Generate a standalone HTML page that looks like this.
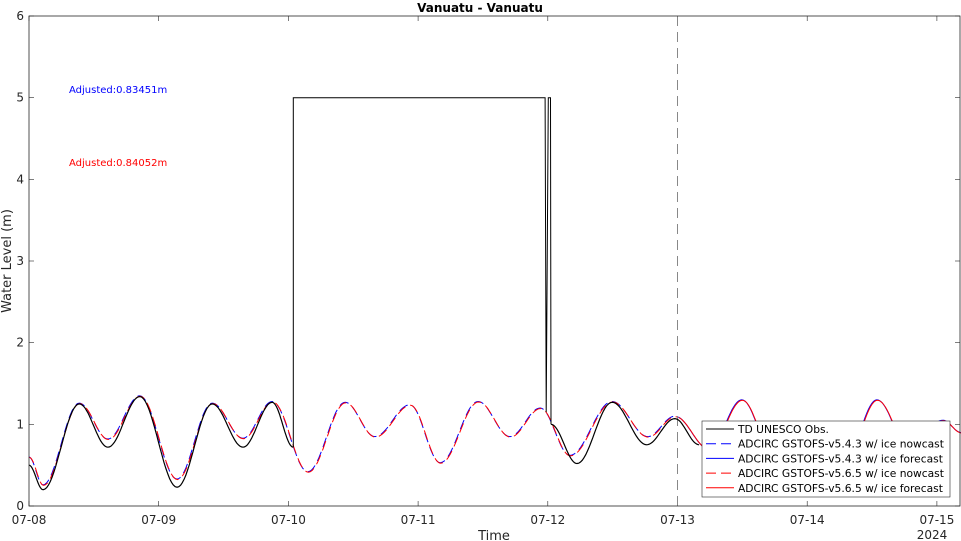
<!DOCTYPE html>
<html><head><meta charset="utf-8"><style>
body{margin:0;background:#fff}
svg{display:block;font-family:"DejaVu Sans","Liberation Sans",sans-serif}
</style></head><body>
<svg id="c" width="961" height="541"></svg>
<script>
const modelT=[0,2.6,9.3,14.6,20.5,27.4,33.9,39.6,45.0,51.6,58.5,64.0,70.5,76.1,83.1,89.0,94.6,100.1,107.9,114.5,119.5,125.8,131.9,138.0,144.5,150.6,156.9,163.0,169.1,172.5];
const modelV=[0.6,0.26,1.26,0.82,1.35,0.33,1.26,0.83,1.28,0.42,1.27,0.85,1.24,0.53,1.28,0.85,1.2,0.62,1.28,0.85,1.1,0.7,1.3,0.6,0.95,0.5,1.3,0.7,1.05,0.9];
const obsT1=[0,2.6,9.3,14.6,20.5,27.4,33.9,39.6,45.0,48.9];
const obsV1=[0.5,0.2,1.25,0.72,1.34,0.23,1.25,0.72,1.27,0.72];
const obsStepT=[48.9,48.9,95.5,95.7,96.1,96.5,96.6];
const obsStepV=[0.72,5,5,1.15,5,5,1.0];
const obsT2=[96.6,101.4,107.9,114.3,119.5,124.0];
const obsV2=[1.0,0.52,1.27,0.75,1.07,0.75];
const xTickLabels=['07-08','07-09','07-10','07-11','07-12','07-13','07-14','07-15'];
const yTickLabels=[0,1,2,3,4,5,6];
const nowcastEnd=120;

const L=29,R=960,T=16,B=506;
const x=h=>L+h/24*129.7;
const y=v=>B-(v/6)*(B-T);
const svg=document.getElementById('c');
const NS='http://www.w3.org/2000/svg';
function mk(tag,attrs,parent){const e=document.createElementNS(NS,tag);for(const k in attrs)e.setAttribute(k,attrs[k]);(parent||svg).appendChild(e);return e;}

function smooth(ts,vs,t0,t1){
  let pts=[];
  for(let i=0;i<ts.length-1;i++){
    const a=ts[i],b=ts[i+1];
    for(let k=0;k<=20;k++){
      const t=a+(b-a)*k/20;
      if(t<t0||t>t1)continue;
      const u=k/20,s=(1-Math.cos(Math.PI*u))/2;
      pts.push([x(t),y(vs[i]+(vs[i+1]-vs[i])*s)]);
    }
  }
  return 'M'+pts.map(p=>p[0].toFixed(1)+','+p[1].toFixed(1)).join('L');
}

let e=mk('rect',{x:L,y:T,width:R-L,height:B-T,fill:'#fff',stroke:'none'});



const gAx=mk('g',{stroke:'#262626','stroke-width':0.6});


xTickLabels.forEach((lab,i)=>{
  const px=x(i*24);
  mk('line',{x1:px,x2:px,y1:B,y2:B-5},gAx);
  mk('line',{x1:px,x2:px,y1:T,y2:T+5},gAx);
  const t=mk('text',{x:px,y:524,'text-anchor':'middle','font-size':12,fill:'#262626',stroke:'none'});
  t.textContent=lab;
  
  
});
yTickLabels.forEach(v=>{
  const py=y(v);
  mk('line',{x1:L,x2:L+5,y1:py,y2:py},gAx);
  mk('line',{x1:R,x2:R-5,y1:py,y2:py},gAx);
  const t=mk('text',{x:L-5,y:py+4,'text-anchor':'end','font-size':12,fill:'#262626',stroke:'none'});
  t.textContent=v;
  
  
});

e=mk('line',{x1:x(nowcastEnd),x2:x(nowcastEnd),y1:T,y2:B,stroke:'#888','stroke-width':1,'stroke-dasharray':'10,6'});



e=mk('path',{d:smooth(modelT,modelV,0,nowcastEnd),fill:'none',stroke:'#0000ff','stroke-width':1,'stroke-dasharray':'10,5'});


e=mk('path',{d:smooth(modelT,modelV,nowcastEnd,172.5),fill:'none',stroke:'#0000ff','stroke-width':1});


e=mk('path',{d:smooth(modelT,modelV,0,nowcastEnd),fill:'none',stroke:'#ff0000','stroke-width':1,'stroke-dasharray':'10,5','stroke-dashoffset':3,transform:'translate(0.5,0.5)'});


e=mk('path',{d:smooth(modelT,modelV,nowcastEnd,172.5),fill:'none',stroke:'#ff0000','stroke-width':1,transform:'translate(0.5,0.5)'});


e=mk('path',{d:smooth(obsT1,obsV1,0,48.9),fill:'none',stroke:'#000','stroke-width':1.2});


e=mk('path',{d:'M'+obsStepT.map((t,i)=>x(t).toFixed(1)+','+y(obsStepV[i]).toFixed(1)).join('L'),fill:'none',stroke:'#000','stroke-width':1});


e=mk('path',{d:smooth(obsT2,obsV2,96.6,124),fill:'none',stroke:'#000','stroke-width':1.2});



e=mk('rect',{x:L,y:T,width:R-L,height:B-T,fill:'none',stroke:'#262626','stroke-width':0.8});



function txt(s,a,name){const t=mk('text',a);t.textContent=s;return t;}
txt('Vanuatu - Vanuatu',{x:480,y:12,'text-anchor':'middle','font-size':12,'font-weight':'bold',fill:'#000'},'chart-title');
txt('Adjusted:0.83451m',{x:69,y:93,'font-size':10,fill:'#0000ff'},'adjusted-blue-label');
txt('Adjusted:0.84052m',{x:69,y:166,'font-size':10,fill:'#ff0000'},'adjusted-red-label');
txt('Time',{x:494,y:540,'text-anchor':'middle','font-size':13,fill:'#262626'},'x-axis-title');
txt('2024',{x:932,y:539,'text-anchor':'middle','font-size':12,fill:'#262626'},'year-label');
txt('Water Level (m)',{x:0,y:0,'text-anchor':'middle','font-size':13,fill:'#262626',transform:'translate(11,261) rotate(-90)'},'y-axis-title');

const lg=mk('g',{});


mk('rect',{x:702,y:421,width:248,height:76,fill:'#fff',stroke:'#262626','stroke-width':0.6},lg);
const items=[['TD UNESCO Obs.','#000',''],['ADCIRC GSTOFS-v5.4.3 w/ ice nowcast','#0000ff','10,5'],['ADCIRC GSTOFS-v5.4.3 w/ ice forecast','#0000ff',''],['ADCIRC GSTOFS-v5.6.5 w/ ice nowcast','#ff0000','10,5'],['ADCIRC GSTOFS-v5.6.5 w/ ice forecast','#ff0000','']];
items.forEach((it,i)=>{
  const yy=429+i*14.7;
  const g=mk('g',{},lg);
  
  
  const a={x1:706,x2:734,y1:yy,y2:yy,stroke:it[1],'stroke-width':1};
  if(it[2])a['stroke-dasharray']=it[2];
  mk('line',a,g);
  const t=mk('text',{x:738,y:yy+4,'font-size':10.7,fill:'#000'},g);
  t.textContent=it[0];
});
</script>
</body></html>
